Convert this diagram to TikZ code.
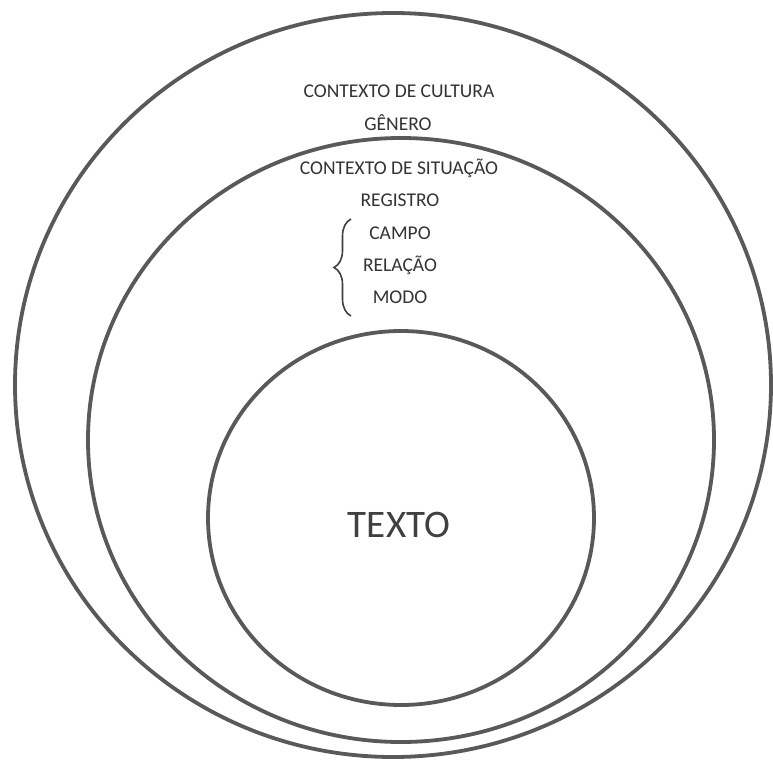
\documentclass[tikz,border=0pt]{standalone}
\usepackage{fontspec}
\setmainfont{Carlito}
\usepackage{tikz}
\usetikzlibrary{decorations.pathreplacing}

\begin{document}
\begin{tikzpicture}[
    x=1pt, y=-1pt,
    ring/.style={draw=black!65, line width=3.8pt},
    label/.style={inner sep=0pt, text=black!80, font=\fontsize{19.5}{22}\selectfont},
    bigtext/.style={inner sep=0pt, text=black!75, font=\fontsize{39}{44}\selectfont},
    bracestyle/.style={draw=black!75, line width=1.6pt, decorate, decoration={brace, amplitude=17pt}}
]
\useasboundingbox (0,0) rectangle (773,762);
\fill[white] (0,0) rectangle (773,762);

\draw[ring] (393,385) ellipse [x radius=378, y radius=372];
\draw[ring] (401,440) ellipse [x radius=313, y radius=302];
\draw[ring] (401,518) ellipse [x radius=193, y radius=187];

\node[label] (cultura)  at (399,91)  {CONTEXTO DE CULTURA};
\node[label] (genero)   at (398,123) {GÊNERO};
\node[label] (situacao) at (399,168) {CONTEXTO DE SITUAÇÃO};
\node[label] (registro) at (400,200) {REGISTRO};
\node[label] (campo)    at (400,233) {CAMPO};
\node[label] (relacao)  at (400,265) {RELAÇÃO};
\node[label] (modo)     at (400,297) {MODO};

\coordinate (bracebot) at (351,316);
\coordinate (bracetop) at (351,219);
\draw[bracestyle] (bracebot) -- (bracetop);

\node[bigtext] (texto) at (399,525) {TEXTO};
\end{tikzpicture}
\end{document}
